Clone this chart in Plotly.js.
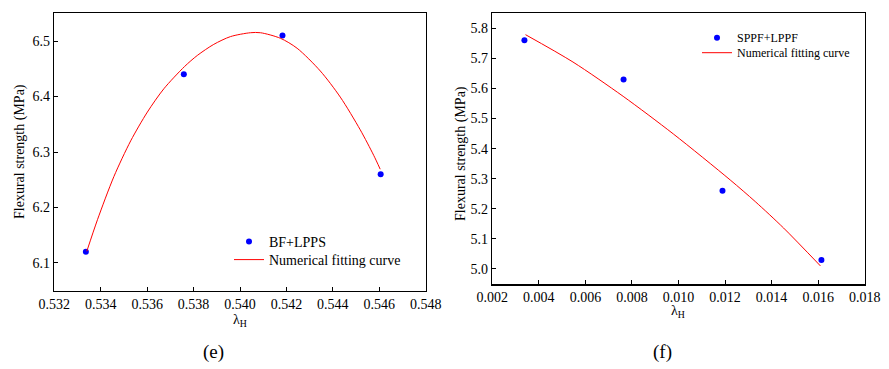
<!DOCTYPE html>
<html>
<head>
<meta charset="utf-8">
<script src="https://cdn.plot.ly/plotly-3.0.1.min.js"></script>
<style>html,body{margin:0;padding:0;background:#fff;}#chart{width:889px;height:369px;}</style>
</head>
<body>
<div id="chart"></div>
<script>
// ---- Panel (e): BF+LPPS ----
const xE = [0.53336, 0.53758, 0.54183, 0.54606];
const yE = [6.12, 6.44, 6.51, 6.26];
const fitXE = [0.53340, 0.53386, 0.53457, 0.53529, 0.53601, 0.53672, 0.53761, 0.53816, 0.53887, 0.53959, 0.54045, 0.54088, 0.54174, 0.54246, 0.54346, 0.54432, 0.54518, 0.54576, 0.54604];
const fitYE = [6.121, 6.178, 6.256, 6.320, 6.372, 6.414, 6.454, 6.474, 6.494, 6.508, 6.515, 6.515, 6.505, 6.487, 6.446, 6.399, 6.340, 6.294, 6.269];

// ---- Panel (f): SPPF+LPPF ----
const xF = [0.00338, 0.00764, 0.01189, 0.01614];
const yF = [5.76, 5.63, 5.26, 5.03];
const fitXF = [0.003427, 0.005466, 0.007621, 0.009776, 0.012220, 0.013297, 0.014517, 0.016099];
const fitYF = [5.779, 5.688, 5.574, 5.449, 5.296, 5.224, 5.136, 5.010];

const labelsE = ['BF+LPPS', 'Numerical fitting curve'];
const labelsF = ['SPPF+LPPF', 'Numerical fitting curve'];
const yTitle = 'Flexural strength (MPa)';
const xTitle = 'λ<sub>H</sub>';
const panelTags = ['(e)', '(f)'];

const W = 889, H = 369;
const px = v => v / W;
const py = v => 1 - v / H;
const FONT = 'Liberation Serif';

const traces = [
  {x: xE, y: yE, type: 'scatter', mode: 'markers', name: labelsE[0],
   marker: {color: '#0000ff', size: 6, symbol: 'circle'}, xaxis: 'x', yaxis: 'y', legend: 'legend'},
  {x: fitXE, y: fitYE, type: 'scatter', mode: 'lines', name: labelsE[1],
   line: {color: '#ff0000', width: 1, shape: 'spline', smoothing: 0.8}, xaxis: 'x', yaxis: 'y', legend: 'legend2'},
  {x: xF, y: yF, type: 'scatter', mode: 'markers', name: labelsF[0],
   marker: {color: '#0000ff', size: 6, symbol: 'circle'}, xaxis: 'x2', yaxis: 'y2', legend: 'legend3'},
  {x: fitXF, y: fitYF, type: 'scatter', mode: 'lines', name: labelsF[1],
   line: {color: '#ff0000', width: 1, shape: 'spline', smoothing: 0.8}, xaxis: 'x2', yaxis: 'y2', legend: 'legend4'}
];

const axBase = {
  showline: true, linecolor: '#000', linewidth: 1.5, mirror: true,
  ticks: 'inside', ticklen: 4, tickwidth: 1, tickcolor: '#000',
  showgrid: false, zeroline: false,
  tickfont: {family: FONT, size: 14, color: '#000'}
};
const legBase = {xanchor: 'left', yanchor: 'middle', bgcolor: 'rgba(0,0,0,0)', borderwidth: 0};

const layout = {
  width: W, height: H,
  margin: {l: 0, r: 0, t: 0, b: 0},
  paper_bgcolor: '#fff', plot_bgcolor: '#fff',
  font: {family: FONT, color: '#000'},
  showlegend: true,
  xaxis: Object.assign({}, axBase, {domain: [px(54.3), px(425.7)], range: [0.532, 0.548], dtick: 0.002, tick0: 0.532, tickformat: '.3f', anchor: 'y'}),
  yaxis: Object.assign({}, axBase, {domain: [py(290.7), py(13.3)], range: [6.05, 6.55], dtick: 0.1, tick0: 6.1, tickformat: '.1f', anchor: 'x'}),
  xaxis2: Object.assign({}, axBase, {domain: [px(492.3), px(864.7)], range: [0.002, 0.018], dtick: 0.002, tick0: 0.002, tickformat: '.3f', anchor: 'y2'}),
  yaxis2: Object.assign({}, axBase, {domain: [py(284), py(13.3)], range: [4.95, 5.85], dtick: 0.1, tick0: 5.0, tickformat: '.1f', anchor: 'x2'}),
  legend: Object.assign({}, legBase, {x: px(229), y: py(242), font: {family: FONT, size: 14, color: '#000'}}),
  legend2: Object.assign({}, legBase, {x: px(229), y: py(260), font: {family: FONT, size: 14, color: '#000'}}),
  legend3: Object.assign({}, legBase, {x: px(697), y: py(37.7), font: {family: FONT, size: 12, color: '#000'}}),
  legend4: Object.assign({}, legBase, {x: px(697), y: py(52.7), font: {family: FONT, size: 12, color: '#000'}}),
  annotations: [
    {text: yTitle, textangle: -90, xref: 'paper', yref: 'paper', x: px(20), y: py(152), showarrow: false,
     xanchor: 'center', yanchor: 'middle', font: {family: FONT, size: 14, color: '#000'}},
    {text: xTitle, xref: 'paper', yref: 'paper', x: px(240), y: py(320), showarrow: false,
     xanchor: 'center', yanchor: 'middle', font: {family: FONT, size: 14, color: '#000'}},
    {text: panelTags[0], xref: 'paper', yref: 'paper', x: px(213), y: py(352), showarrow: false,
     xanchor: 'center', yanchor: 'middle', font: {family: FONT, size: 19, color: '#000'}},
    {text: yTitle, textangle: -90, xref: 'paper', yref: 'paper', x: px(461), y: py(154), showarrow: false,
     xanchor: 'center', yanchor: 'middle', font: {family: FONT, size: 14, color: '#000'}},
    {text: xTitle, xref: 'paper', yref: 'paper', x: px(678), y: py(311), showarrow: false,
     xanchor: 'center', yanchor: 'middle', font: {family: FONT, size: 14, color: '#000'}},
    {text: panelTags[1], xref: 'paper', yref: 'paper', x: px(662), y: py(352), showarrow: false,
     xanchor: 'center', yanchor: 'middle', font: {family: FONT, size: 19, color: '#000'}}
  ]
};

Plotly.newPlot('chart', traces, layout, {staticPlot: true, displayModeBar: false});
</script>
</body>
</html>
